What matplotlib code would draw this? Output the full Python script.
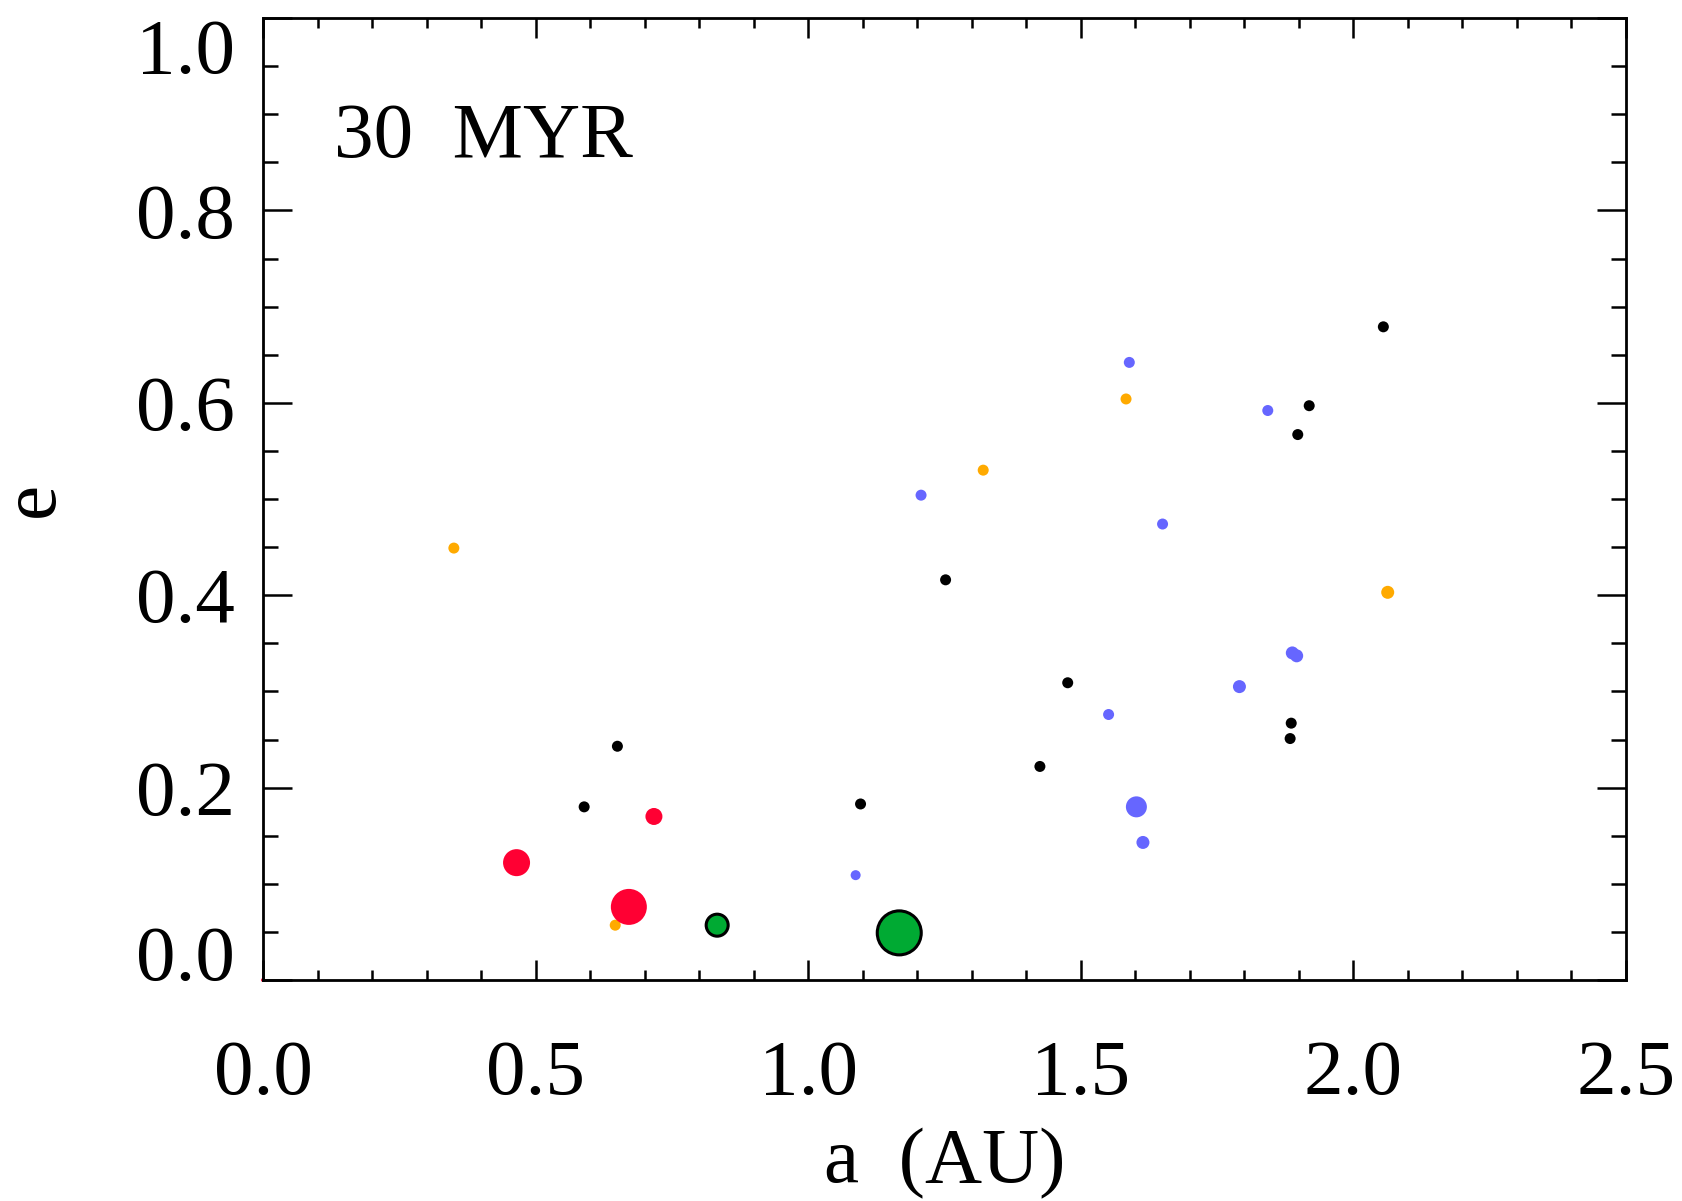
import matplotlib
matplotlib.use("Agg")
import matplotlib.pyplot as plt
import numpy as np

plt.rcParams['font.family'] = ['Liberation Serif', 'DejaVu Serif']

# semi-major axis (AU), eccentricity, marker diameter (px) per group
orange_a = [0.350, 0.646, 1.321, 1.583, 2.063]
orange_e = [0.449, 0.057, 0.530, 0.604, 0.403]
orange_d = [11, 11, 11, 11, 13]

blue_a = [1.207, 1.589, 1.650, 1.843, 1.888, 1.896, 1.791, 1.551, 1.602, 1.614, 1.087]
blue_e = [0.504, 0.642, 0.474, 0.592, 0.340, 0.337, 0.305, 0.276, 0.180, 0.143, 0.109]
blue_d = [11, 11, 11, 11, 13, 13, 13, 11, 21, 13, 10]

black_a = [2.055, 1.919, 1.898, 1.252, 1.476, 1.425, 1.886, 1.884, 1.096, 0.650, 0.589]
black_e = [0.679, 0.597, 0.567, 0.416, 0.309, 0.222, 0.267, 0.251, 0.183, 0.243, 0.180]
black_d = [11, 11, 11, 11, 11, 11, 11, 11, 11, 11, 11]

red_a = [0.465, 0.671, 0.717, 0.0]
red_e = [0.122, 0.076, 0.170, 0.0]
red_d = [27, 36, 17, 4]

green_a = [0.833, 1.167]
green_e = [0.057, 0.049]
green_d = [22, 44]

xticks = [0.0, 0.5, 1.0, 1.5, 2.0, 2.5]
yticks = [0.0, 0.2, 0.4, 0.6, 0.8, 1.0]

def px2s(d):
    # diameter in pixels (dpi 100) -> scatter area in pt^2
    return (np.array(d) * 0.72) ** 2

fig = plt.figure(figsize=(16.83, 12.01), dpi=100)
ax = fig.add_axes([0.1563, 0.1840, 0.8098, 0.8010])

ax.scatter(orange_a, orange_e, s=px2s(orange_d), color='#ffaa00', linewidths=0)
ax.scatter(blue_a, blue_e, s=px2s(blue_d), color='#6666ff', linewidths=0)
ax.scatter(black_a, black_e, s=px2s(black_d), color='black', linewidths=0)
ax.scatter(red_a, red_e, s=px2s(red_d), color='#ff0033', linewidths=0, clip_on=False)
ax.scatter(green_a, green_e, s=px2s(green_d), color='#00aa33', edgecolors='black', linewidths=2.2)

ax.set_xlim(0, 2.5)
ax.set_ylim(0, 1.0)
ax.set_xticks(xticks)
ax.set_xticklabels(["%.1f" % v for v in xticks])
ax.set_yticks(yticks)
ax.set_yticklabels(["%.1f" % v for v in yticks])
ax.set_xticks(np.arange(0, 2.51, 0.1), minor=True)
ax.set_yticks(np.arange(0, 1.01, 0.05), minor=True)

for sp in ax.spines.values():
    sp.set_linewidth(2.0)

ax.tick_params(axis='both', which='both', direction='in', top=True, right=True, width=1.8,
               labelsize=57)
ax.tick_params(axis='x', which='major', length=14.5, pad=43)
ax.tick_params(axis='x', which='minor', length=7.5)
ax.tick_params(axis='y', which='major', length=21, pad=20)
ax.tick_params(axis='y', which='minor', length=11)

ylabels = ax.get_yticklabels()
ylabels[0].set_verticalalignment('baseline')
ylabels[-1].set_verticalalignment('top')

ax.set_xlabel("a  (AU)", fontsize=57, labelpad=12)
ax.set_ylabel("e", fontsize=57, labelpad=48)

ax.text(0.13, 0.875, "30  MYR", fontsize=57, ha='left', va='center')

fig.savefig("out.png", dpi=100)
